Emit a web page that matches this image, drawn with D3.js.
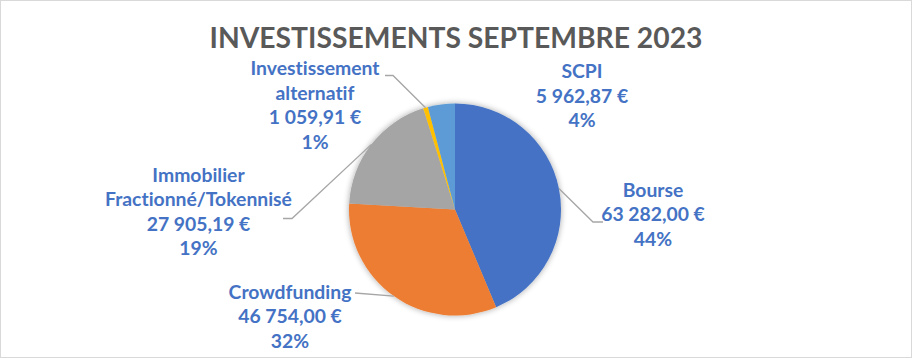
<!DOCTYPE html>
<html><head><meta charset="utf-8">
<script src="https://cdn.jsdelivr.net/npm/d3@7/dist/d3.min.js"></script>
<style>body{margin:0;background:#fff}svg{display:block}text{font-variant-ligatures:none;font-feature-settings:"liga" 0,"clig" 0}</style>
</head><body>
<svg id="c" width="912" height="358"></svg>
<script>
const title = "INVESTISSEMENTS SEPTEMBRE 2023";
const categories = ["Bourse", "Crowdfunding", "Immobilier\nFractionné/Tokennisé", "Investissement\nalternatif", "SCPI"];
const values = [63282.00, 46754.00, 27905.19, 1059.91, 5962.87];
const colors = ["#4472C4", "#ED7D31", "#A5A5A5", "#FFC000", "#5B9BD5"];

// layout (label anchors: center x, first baseline y; leader line label-end points)
const layout = [
  {x: 653, y: 196.5, line: [[603, 222], [593, 222]]},
  {x: 290, y: 298.5, line: [[355, 293]]},
  {x: 198.5, y: 181.5, line: [[283, 218.5], [292, 218.5]]},
  {x: 315, y: 75, line: [[385, 75.5], [393, 75.5]]},
  {x: 582, y: 78, line: null}
];

const W = 912, H = 358, cx = 455, cy = 209.5, R = 106;
const svg = d3.select("#c");
svg.append("rect").attr("x", 0.5).attr("y", 0.5).attr("width", W - 1).attr("height", H - 1)
  .attr("fill", "#fff").attr("stroke", "#D9D9D9");

const defs = svg.append("defs");
const f = defs.append("filter").attr("id", "sh").attr("x", "-20%").attr("y", "-20%").attr("width", "140%").attr("height", "140%");
f.append("feGaussianBlur").attr("in", "SourceAlpha").attr("stdDeviation", 3).attr("result", "b");
f.append("feOffset").attr("in", "b").attr("dx", 0).attr("dy", 0).attr("result", "o");
f.append("feComponentTransfer").attr("in", "o").attr("result", "t")
  .append("feFuncA").attr("type", "linear").attr("slope", 0.35);
const m = f.append("feMerge");
m.append("feMergeNode").attr("in", "t");
m.append("feMergeNode").attr("in", "SourceGraphic");

// title
const tt = svg.append("text").attr("x", W / 2).attr("y", 48).attr("text-anchor", "middle")
  .attr("font-family", "Lato, 'Open Sans', sans-serif").attr("font-weight", "bold")
  .attr("fill", "#595959").attr("font-size", 30).text(title);
const tw = tt.node().getComputedTextLength();
tt.attr("font-size", 30 * 493 / tw);

const total = d3.sum(values);
const pie = d3.pie().sort(null).value(d => d)(values);
const arc = d3.arc().innerRadius(0).outerRadius(R);
const edge = d3.arc().innerRadius(R).outerRadius(R);

const g = svg.append("g").attr("transform", `translate(${cx},${cy})`);
g.append("g").attr("filter", "url(#sh)").selectAll("path").data(pie).join("path")
  .attr("d", arc).attr("fill", (d, i) => colors[i]);

// leader lines
pie.forEach((d, i) => {
  const L = layout[i];
  if (!L.line) return;
  const c = edge.centroid(d);
  const pts = L.line.concat([[cx + c[0], cy + c[1]]]);
  svg.append("path").attr("d", d3.line()(pts)).attr("fill", "none")
    .attr("stroke", "#A6A6A6").attr("stroke-width", 1.3);
});

const fr = d3.formatLocale({decimal: ",", thousands: " ", grouping: [3], currency: ["", " €"]});
const fmt = fr.format(",.2f");
const lh = 24.5;

// label font size fitted so "Fractionné/Tokennisé" is ~187px
const probe = svg.append("text").attr("font-family", "Lato, 'Open Sans', sans-serif")
  .attr("font-weight", "bold").attr("font-size", 20).text("Fractionné/Tokennisé");
const fs = 20 * 187 / probe.node().getComputedTextLength();
probe.remove();

pie.forEach((d, i) => {
  const L = layout[i];
  const lines = categories[i].split("\n").concat([fmt(values[i]) + " €", Math.round(values[i] / total * 100) + "%"]);
  const t = svg.append("text").attr("text-anchor", "middle")
    .attr("font-family", "Lato, 'Open Sans', sans-serif").attr("font-weight", "bold")
    .attr("font-size", fs).attr("fill", "#4472C4");
  lines.forEach((s, k) => t.append("tspan").attr("x", L.x).attr("y", L.y + k * lh).text(s));
});
</script>
</body></html>
